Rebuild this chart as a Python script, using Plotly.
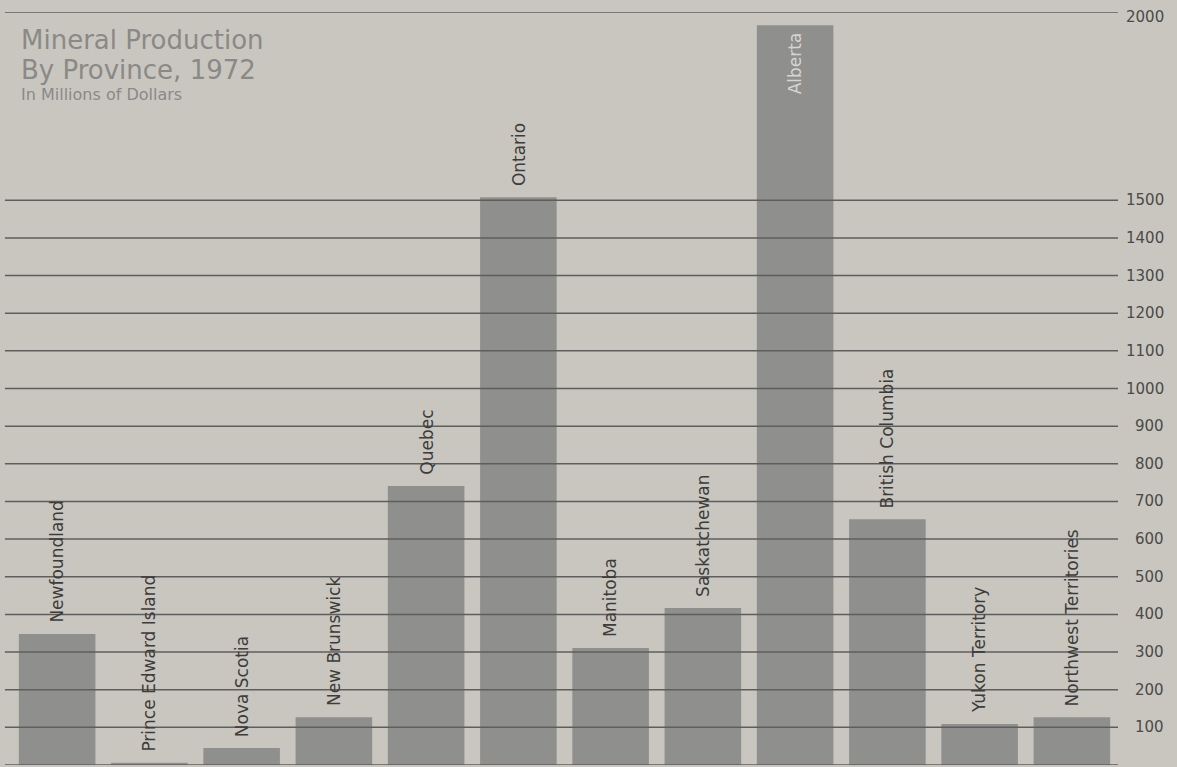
import plotly.graph_objects as go

provinces = ["Newfoundland", "Prince Edward Island", "Nova Scotia", "New Brunswick",
             "Quebec", "Ontario", "Manitoba", "Saskatchewan", "Alberta",
             "British Columbia", "Yukon Territory", "Northwest Territories"]
values = [348, 6, 45, 127, 741, 1508, 311, 417, 1965, 653, 109, 127]
grid_values = [0, 100, 200, 300, 400, 500, 600, 700, 800, 900, 1000,
               1100, 1200, 1300, 1400, 1500, 2000]
tick_labels = ["100", "200", "300", "400", "500", "600", "700", "800", "900", "1000",
               "1100", "1200", "1300", "1400", "1500", "2000"]
tick_values = grid_values[1:]

BG = "#c9c6c0"
BAR = "#8f8f8d"
GRID = "#5e5e5c"
FONT = "DejaVu Sans"

fig = go.Figure()
fig.add_trace(go.Bar(x=provinces, y=values, marker=dict(color=BAR, line=dict(width=0)),
                     hoverinfo="skip"))

shapes = []
for v in grid_values:
    shapes.append(dict(type="line", xref="paper", yref="y", x0=-0.0055, x1=1.0,
                       y0=v, y1=v, line=dict(color=GRID, width=1.5), layer="above"))

annotations = []
for v, t in zip(tick_values, tick_labels):
    annotations.append(dict(xref="paper", yref="y", x=1, y=v, xshift=48,
                            yshift=(-5 if t == "2000" else 0),
                            xanchor="right", yanchor="middle", text=t, showarrow=False,
                            font=dict(family=FONT, size=15, color="#4a4a48")))

for p, v in zip(provinces, values):
    if p == "Alberta":
        annotations.append(dict(x=p, y=v, text=p, textangle=-90, showarrow=False,
                                xanchor="center", yanchor="top", yshift=-5,
                                font=dict(family=FONT, size=17, color="#d6d5d1")))
    else:
        annotations.append(dict(x=p, y=v, text=p, textangle=-90, showarrow=False,
                                xanchor="center", yanchor="bottom", yshift=9,
                                font=dict(family=FONT, size=17, color="#3c3c3a")))

title_color = "#8a8987"
annotations += [
    dict(xref="paper", yref="paper", x=0.007, y=0.9628, xanchor="left", yanchor="middle",
         text="Mineral Production", showarrow=False,
         font=dict(family=FONT, size=26, color=title_color)),
    dict(xref="paper", yref="paper", x=0.007, y=0.9230, xanchor="left", yanchor="middle",
         text="By Province, 1972", showarrow=False,
         font=dict(family=FONT, size=26, color=title_color)),
    dict(xref="paper", yref="paper", x=0.007, y=0.8911, xanchor="left", yanchor="middle",
         text="In Millions of Dollars", showarrow=False,
         font=dict(family=FONT, size=16, color=title_color)),
]

fig.update_layout(
    width=1177, height=767,
    margin=dict(l=11, r=59, t=12, b=2),
    paper_bgcolor=BG, plot_bgcolor=BG,
    bargap=0.17, showlegend=False,
    xaxis=dict(showticklabels=False, showgrid=False, zeroline=False, ticks=""),
    yaxis=dict(range=[0, 2000], showticklabels=False, showgrid=False, zeroline=False,
               ticks=""),
    shapes=shapes, annotations=annotations,
)

fig.write_html("out.html",
               config={"displayModeBar": False, "staticPlot": True},
               post_script="document.body.style.margin='0';"
                           "document.body.style.overflow='hidden';"
                           f"document.body.style.background='{BG}';")
